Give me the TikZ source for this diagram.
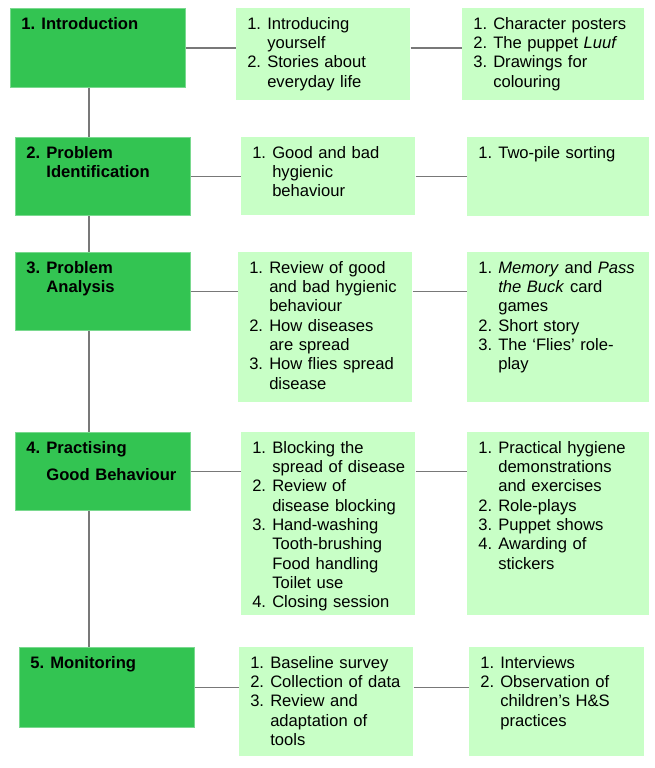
\documentclass[tikz,border=0pt]{standalone}
\usepackage{fontspec}
\setmainfont{Liberation Sans}
\definecolor{stagegreen}{RGB}{51, 196, 82}
\definecolor{taskgreen}{RGB}{200, 255, 198}
\definecolor{linkgray}{RGB}{120, 120, 120}
\newcommand{\boxfont}{\fontsize{12.45pt}{14.5pt}\selectfont}
\newcommand{\steplist}[1]{\begin{tabular}[t]{@{}p{15pt}@{}l@{}}#1\end{tabular}}

\begin{document}
\begin{tikzpicture}[x=0.75pt, y=-0.75pt,
  stage/.style={fill=stagegreen, draw=stagegreen!65!white, line width=0.6pt, anchor=north west, inner xsep=8.25pt, inner ysep=0pt, text width=114.75pt, text height=15.75pt, align=left, font=\boxfont\bfseries},
  task/.style={fill=taskgreen, anchor=north west, inner xsep=8.25pt, inner ysep=0pt, text width=114pt, text height=15.75pt, align=left, font=\boxfont},
  tool/.style={task, text width=120pt},
  boxh/.style={text depth=0.75pt*#1-15.75pt},
  link/.style={draw=linkgray, line width=0.9pt}
]
  \path[use as bounding box, fill=white] (0,0) rectangle (655,768);

  % stages
  \node[stage, boxh=79] (s1) at (10,8) {\steplist{1. & Introduction}};
  \node[stage, boxh=78] (s2) at (15,137) {\steplist{2. & Problem\\ & Identification}};
  \node[stage, boxh=78] (s3) at (15,252) {\steplist{3. & Problem\\ & Analysis}};
  \node[stage, boxh=78] (s4) at (15,432) {\steplist{4. & Practising\\[5.75pt] & Good Behaviour}};
  \node[stage, boxh=80] (s5) at (19,647) {\steplist{5. & Monitoring}};

  % topics
  \node[task, boxh=92] (m1) at (236,8) {\steplist{1. & Introducing\\ & yourself\\ 2. & Stories about\\ & everyday life}};
  \node[task, boxh=78] (m2) at (241,137) {\steplist{1. & Good and bad\\ & hygienic\\ & behaviour}};
  \node[task, boxh=150] (m3) at (238,252) {\steplist{1. & Review of good\\ & and bad hygienic\\ & behaviour\\ 2. & How diseases\\ & are spread\\ 3. & How flies spread\\ & disease}};
  \node[task, boxh=183] (m4) at (241,432) {\steplist{1. & Blocking the\\ & spread of disease\\ 2. & Review of\\ & disease blocking\\ 3. & Hand-washing\\ & Tooth-brushing\\ & Food handling\\ & Toilet use\\ 4. & Closing session}};
  \node[task, boxh=109] (m5) at (239,647) {\steplist{1. & Baseline survey\\ 2. & Collection of data\\ 3. & Review and\\ & adaptation of\\ & tools}};

  % tools
  \node[tool, boxh=92] (r1) at (462,8) {\steplist{1. & Character posters\\ 2. & The puppet \textit{Luuf}\\ 3. & Drawings for\\ & colouring}};
  \node[tool, boxh=79] (r2) at (467,137) {\steplist{1. & Two-pile sorting}};
  \node[tool, boxh=150] (r3) at (467,252) {\steplist{1. & \textit{Memory} and \textit{Pass}\\ & \textit{the Buck} card\\ & games\\ 2. & Short story\\ 3. & The ‘Flies’ role-\\ & play}};
  \node[tool, boxh=183] (r4) at (467,432) {\steplist{1. & Practical hygiene\\ & demonstrations\\ & and exercises\\ 2. & Role-plays\\ 3. & Puppet shows\\ 4. & Awarding of\\ & stickers}};
  \node[tool, boxh=109, text width=114.75pt] (r5) at (469,647) {\steplist{1. & Interviews\\ 2. & Observation of\\ & children’s H\&S\\ & practices}};

  % connectors
  \coordinate (spine) at (89,0);
  \foreach \a/\b in {1/2,2/3,3/4,4/5}
    \draw[link] (s\a.south -| spine) -- (s\b.north -| spine);
  \foreach \i in {1,...,5} {
    \draw[link] (s\i.east) -- (s\i.east -| m\i.west);
    \draw[link] (s\i.east -| m\i.east) -- (s\i.east -| r\i.west);
  }
\end{tikzpicture}
\end{document}
